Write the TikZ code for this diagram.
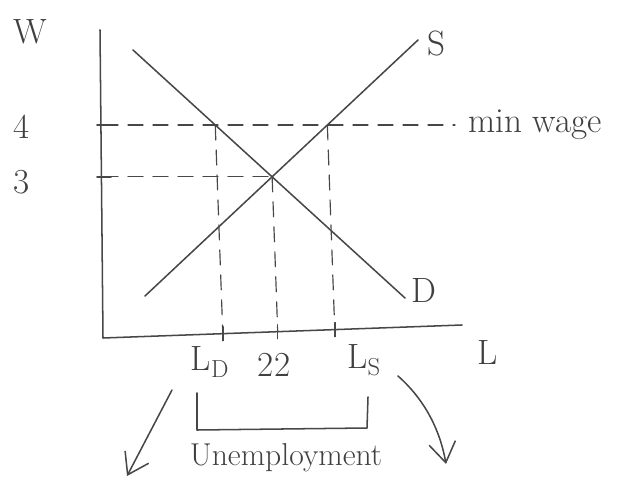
\documentclass[tikz,border=0pt]{standalone}
\usetikzlibrary{arrows.meta,calc}
\begin{document}
\begin{tikzpicture}[x=0.03cm,y=-0.03cm,
  ink/.style={draw=black!72,line width=1.3pt,line cap=round,line join=round},
  dashline/.style={ink,line width=1pt,dash pattern=on 0.45cm off 0.3cm},
  lbl/.style={text=black!75,font=\fontsize{30}{34}\selectfont,inner sep=0pt},
  wlbl/.style={lbl,font=\fontsize{27}{32}\selectfont},
  arr/.style={ink,-{Straight Barb[length=0.6cm,width=0.8cm,line width=1.3pt]}}]
\useasboundingbox (0,0) rectangle (627,486);
% axes
\coordinate (Wtop) at (100,30);
\coordinate (O) at (103,338);
\coordinate (Lend) at (462,325);
\draw[ink] (Wtop) -- (O) -- (Lend);
% demand and supply
\coordinate (D1) at (133,50);
\coordinate (D2) at (405,298);
\coordinate (S1) at (145,296);
\coordinate (S2) at (418,40);
\draw[ink] (D1) -- (D2);
\draw[ink] (S1) -- (S2);
\coordinate (E) at (intersection of D1--D2 and S1--S2);
% minimum wage line
\coordinate (W4) at (103,125);
\coordinate (M4) at (455,125);
\coordinate (A) at (intersection of D1--D2 and W4--M4);
\coordinate (C) at (intersection of S1--S2 and W4--M4);
\coordinate (W3) at (E -| O);
\draw[dashline] (W4) -- (M4);
\draw[dashline] (W3) -- (E);
\coordinate (Ab) at ($(O)!(A)!(Lend)$);
\coordinate (Eb) at ($(O)!(E)!(Lend)$);
\coordinate (Cb) at ($(O)!(C)!(Lend)$);
\draw[dashline] (A) -- (Ab);
\draw[dashline] (E) -- (Eb);
\draw[dashline] (C) -- (Cb);
% ticks
\foreach \p in {Ab,Eb,Cb} \draw[ink] ($(\p)+(0,-7)$) -- ($(\p)+(0,7)$);
\foreach \p in {W4,W3} \draw[ink] ($(\p)+(-6,0)$) -- ($(\p)+(8,0)$);
% labels
\node[lbl] (lW) at (30,32) {W};
\node[lbl] (l4) at (22,127) {4};
\node[lbl] (l3) at (22,182) {3};
\node[lbl] (lS) at (436,44) {S};
\node[lbl] (lD) at (424,290) {D};
\node[lbl] (lL) at (488,352) {L};
\node[lbl,anchor=west] (lmw) at (468,125) {min wage};
\node[lbl] (lLD) at (210,362) {L\textsubscript{D}};
\node[lbl] (l22) at (274,365) {22};
\node[lbl] (lLS) at (364,360) {L\textsubscript{S}};
% bracket
\coordinate (B1) at (197,393);
\coordinate (B2) at (197,430);
\coordinate (B3) at (367,428);
\coordinate (B4) at (368,397);
\draw[ink] (B1) -- (B2) -- (B3) -- (B4);
\node[wlbl] (lU) at (286,458) {Unemployment};
% arrows
\coordinate (LA1) at (172,390);
\coordinate (LA2) at (127,476);
\draw[arr] (LA1) -- (LA2);
\coordinate (RA1) at (398,376);
\coordinate (RA2) at (446,464);
\draw[arr] (RA1) .. controls (425,400) and (440,430) .. (RA2);
\end{tikzpicture}
\end{document}
